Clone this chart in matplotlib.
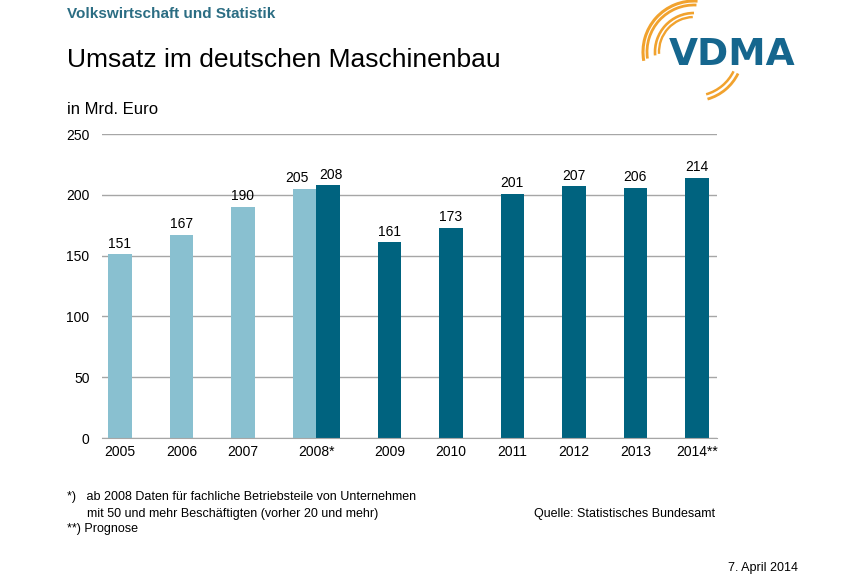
import numpy as np
import matplotlib
matplotlib.use('Agg')
import matplotlib.pyplot as plt
from matplotlib.patches import Arc

plt.rcParams['font.family'] = ['Liberation Sans', 'DejaVu Sans']

years = ['2005', '2006', '2007', '2008*', '2009', '2010', '2011', '2012', '2013', '2014**']
old_basis = [151, 167, 190, 205]                 # 2005-2008, ab 20 Beschaeftigte
new_basis = [208, 161, 173, 201, 207, 206, 214]  # 2008-2014, ab 50 Beschaeftigte
yticks = [0, 50, 100, 150, 200, 250]

light = '#89C0D0'
dark = '#00637F'
grid_c = '#A6A6A6'

fig = plt.figure(figsize=(8.6, 5.8), dpi=100)
ax = fig.add_axes([102/860, 1-438/580, 615/860, 304/580])

w = 0.382
x = np.arange(len(years))
xo = x[:len(old_basis)]
xn = x[len(years)-len(new_basis):] + w
b1 = ax.bar(xo, old_basis, width=w, color=light, zorder=3)
b2 = ax.bar(xn, new_basis, width=w, color=dark, zorder=3)
# the two 2008 labels are pushed apart a little
for bars, nudge, idx in ((b1, -5, len(old_basis)-1), (b2, 2, 0)):
    for k, r in enumerate(bars):
        ax.annotate(f'{r.get_height():.0f}', (r.get_x()+r.get_width()/2, r.get_height()),
                    xytext=(nudge if k == idx else 0, 2.5), textcoords='offset points',
                    ha='center', va='bottom', fontsize=10)

# tick labels sit under the bar(s) of each year
tpos = []
for i in x:
    has_o = i < len(old_basis)
    has_n = i >= len(years)-len(new_basis)
    tpos.append(i + w/2 if (has_o and has_n) else (i + w if has_n else i))
ax.set_xticks(tpos)
ax.set_xticklabels(years, fontsize=10)
ax.set_yticks(yticks)
ax.set_yticklabels([str(v) for v in yticks], fontsize=10)
ax.tick_params(length=0)
ax.tick_params(axis='y', pad=9)
ax.tick_params(axis='x', pad=5)
ax.set_xlim(-0.29, 9.71)
ax.set_ylim(0, 250)
ax.grid(axis='y', color=grid_c, lw=1, zorder=0)
for s in ['top', 'right', 'left']:
    ax.spines[s].set_visible(False)
ax.spines['bottom'].set_color(grid_c)
ax.spines['bottom'].set_zorder(4)

# header
fig.text(67/860, 1-14/580, 'Volkswirtschaft und Statistik', fontsize=11, fontweight='bold',
         color='#2B6D83', va='center')
fig.text(67/860, 1-60/580, 'Umsatz im deutschen Maschinenbau', fontsize=19, va='center')
fig.text(67/860, 1-110/580, 'in Mrd. Euro', fontsize=12, va='center')

# footer
fs = 9
fig.text(67/860, 1-497/580, '*)   ab 2008 Daten für fachliche Betriebsteile von Unternehmen',
         fontsize=fs, va='center')
fig.text(87/860, 1-514/580, 'mit 50 und mehr Beschäftigten (vorher 20 und mehr)',
         fontsize=fs, va='center')
fig.text(67/860, 1-529/580, '**) Prognose', fontsize=fs, va='center')
fig.text(715/860, 1-514/580, 'Quelle: Statistisches Bundesamt', fontsize=fs, va='center',
         ha='right')
fig.text(798/860, 1-568/580, '7. April 2014', fontsize=fs, va='center', ha='right')

# logo
lg = fig.add_axes([620/860, 1-110/580, 200/860, 110/580])
lg.set_xlim(620, 820)
lg.set_ylim(110, 0)
lg.set_aspect('equal')
lg.axis('off')
orange = '#F1A22E'
cx, cy = 694, 52
for r, lw, a1, a2 in [(51, 2.2, 170, 274), (47, 2.0, 172, 273), (39, 1.9, 175, 270), (35, 1.7, 177, 268)]:
    lg.add_patch(Arc((cx, cy), 2*r, 2*r, theta1=a1, theta2=a2, color=orange, lw=lw))
for r, lw in [(49, 2.0), (44, 1.8)]:
    lg.add_patch(Arc((cx, cy), 2*r, 2*r, theta1=26, theta2=74, color=orange, lw=lw))
lg.text(732, 55, 'VDMA', fontsize=27, fontweight='bold', color='#15668E', ha='center',
        va='center', family=['DejaVu Sans'])

fig.savefig('out.png', dpi=100)
